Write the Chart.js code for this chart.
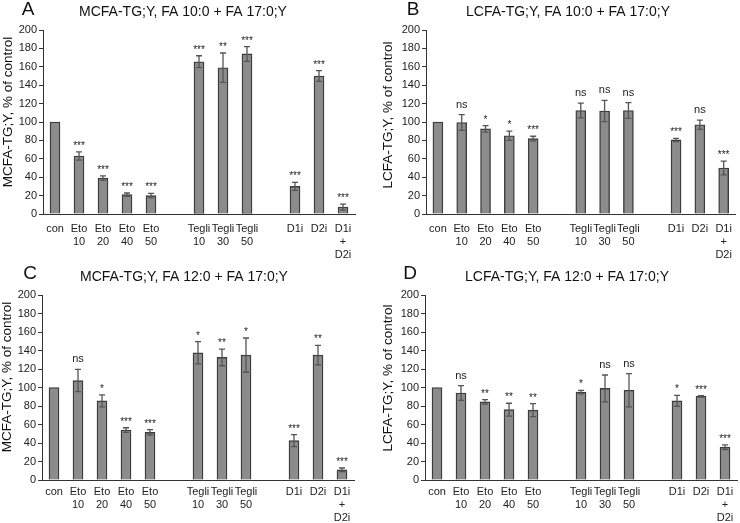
<!DOCTYPE html>
<html>
<head>
<meta charset="utf-8">
<script src="https://cdn.jsdelivr.net/npm/chart.js@4.4.1/dist/chart.umd.min.js"></script>
<style>
  body { margin: 0; background: #fff; }
  #wrap { position: relative; width: 740px; height: 523px; overflow: hidden; }
  canvas { position: absolute; }
</style>
</head>
<body>
<div id="wrap">
  <canvas id="chartA" width="370" height="262" style="left:0;top:0"></canvas>
  <canvas id="chartB" width="370" height="262" style="left:370px;top:0"></canvas>
  <canvas id="chartC" width="370" height="261" style="left:0;top:262px"></canvas>
  <canvas id="chartD" width="370" height="261" style="left:370px;top:262px"></canvas>
</div>
<script>
// categories (empty strings = gaps between groups)
const categories = ['con', ['Eto', '10'], ['Eto', '20'], ['Eto', '40'], ['Eto', '50'], '',
  ['Tegli', '10'], ['Tegli', '30'], ['Tegli', '50'], '', 'D1i', 'D2i', ['D1i', '+', 'D2i']];
const yTicks = [0, 20, 40, 60, 80, 100, 120, 140, 160, 180, 200];

// A : MCFA-TG;Y, FA 10:0 + FA 17:0;Y
const meanA = [100, 63, 39, 21, 20, null, 165.5, 159, 174, null, 30, 150, 7.5];
const errA  = [0, 4.5, 2.5, 1.8, 2.5, null, 6.5, 16, 8, null, 4.3, 5.8, 3.3];
const sigA  = ['', '***', '***', '***', '***', '', '***', '**', '***', '', '***', '***', '***'];

// B : LCFA-TG;Y, FA 10:0 + FA 17:0;Y
const meanB = [100, 99.5, 92.5, 85, 82, null, 112.5, 112, 112.5, null, 80.5, 97, 50];
const errB  = [0, 8.5, 3.5, 5, 2.5, null, 8, 11.5, 8.5, null, 1.8, 5, 7.5];
const sigB  = ['', 'ns', '*', '*', '***', '', 'ns', 'ns', 'ns', '', '***', 'ns', '***'];

// C : MCFA-TG;Y, FA 12:0 + FA 17:0;Y
const meanC = [100, 107.5, 85.5, 54, 51.5, null, 137.5, 132.5, 135, null, 42.5, 135, 11];
const errC  = [0, 12, 6.5, 2.5, 3, null, 12, 9, 18.5, null, 6.5, 10.5, 2];
const sigC  = ['', 'ns', '*', '***', '***', '', '*', '**', '*', '', '***', '**', '***'];

// D : LCFA-TG;Y, FA 12:0 + FA 17:0;Y
const meanD = [100, 94, 84.5, 76, 75.5, null, 95, 99, 97, null, 85.5, 90.5, 35.5];
const errD  = [0, 8, 2.5, 7, 7, null, 1.8, 14.5, 18, null, 6, 0.8, 2.5];
const sigD  = ['', 'ns', '**', '**', '**', '', '*', 'ns', 'ns', '', '*', '***', '***'];

const FONT = "'Liberation Sans', Arial, sans-serif";

// error bars + significance marks, drawn through the y scale
const errorBarPlugin = {
  id: 'errorBars',
  afterDatasetsDraw(chart) {
    const { ctx, scales: { y } } = chart;
    const meta = chart.getDatasetMeta(0);
    const ds = chart.data.datasets[0];
    ctx.save();
    meta.data.forEach((bar, i) => {
      const v = ds.data[i];
      if (v === null) return;
      const e = ds.err[i];
      let top = y.getPixelForValue(v);
      if (e > 0) {
        top = y.getPixelForValue(v + e);
        const bot = y.getPixelForValue(v - e);
        ctx.strokeStyle = '#555';
        ctx.lineWidth = 1.3;
        ctx.beginPath();
        ctx.moveTo(bar.x, top); ctx.lineTo(bar.x, bot);
        ctx.moveTo(bar.x - 3, top); ctx.lineTo(bar.x + 3, top);
        ctx.moveTo(bar.x - 3, bot); ctx.lineTo(bar.x + 3, bot);
        ctx.stroke();
      }
      const s = ds.sig[i];
      if (s) {
        ctx.fillStyle = '#222';
        ctx.textAlign = 'center';
        ctx.textBaseline = 'alphabetic';
        if (s === 'ns') {
          ctx.font = '11px ' + FONT;
          ctx.fillText(s, bar.x, top - 7);
        } else {
          ctx.font = '10px ' + FONT;
          ctx.fillText(s, bar.x, top - 3);
        }
      }
    });
    ctx.restore();
  }
};

// panel letter, title, y title
const textPlugin = {
  id: 'panelText',
  afterDraw(chart) {
    const p = chart.options.plugins.panelText;
    const ctx = chart.ctx;
    ctx.save();
    ctx.fillStyle = '#111';
    ctx.textBaseline = 'middle';
    ctx.textAlign = 'center';
    ctx.font = '19px ' + FONT;
    ctx.fillText(p.letter, p.letterX, p.letterY);
    ctx.font = '14px ' + FONT;
    ctx.fillText(p.title, p.titleX, p.titleY);
    ctx.translate(p.yTitleX, p.yTitleY);
    ctx.rotate(-Math.PI / 2);
    ctx.font = '13.5px ' + FONT;
    ctx.fillText(p.yTitle, 0, 0);
    ctx.restore();
  }
};

function makePanel(id, mean, err, sig, text, area) {
  const canvas = document.getElementById(id);
  const W = canvas.width, H = canvas.height;
  return new Chart(canvas, {
    type: 'bar',
    data: {
      labels: categories,
      datasets: [{
        data: mean,
        err: err,
        sig: sig,
        backgroundColor: '#8c8c8c',
        borderColor: '#3c3c3c',
        borderWidth: 1.4,
        barThickness: 10
      }]
    },
    options: {
      responsive: false,
      animation: false,
      events: [],
      layout: { padding: { left: 0, top: area.top, right: W - area.right, bottom: 0 } },
      plugins: {
        legend: { display: false },
        tooltip: { enabled: false },
        panelText: text
      },
      scales: {
        x: {
          grid: { display: false, drawTicks: false },
          border: { display: true, color: '#333', width: 1 },
          ticks: {
            autoSkip: false, maxRotation: 0, minRotation: 0, padding: area.labelPad,
            color: '#222', font: { family: FONT, size: 11, lineHeight: 1.2 }
          },
          afterFit: s => { s.height = H - area.bottom; }
        },
        y: {
          min: 0, max: 200,
          afterBuildTicks: s => { s.ticks = yTicks.map(v => ({ value: v })); },
          grid: { display: true, drawOnChartArea: false, drawTicks: true, tickLength: 4, color: '#333' },
          border: { display: true, color: '#333', width: 1 },
          ticks: { padding: 2, color: '#222', font: { family: FONT, size: 11 } },
          afterFit: s => { s.width = area.left; }
        }
      }
    },
    plugins: [errorBarPlugin, textPlugin]
  });
}

makePanel('chartA', meanA, errA, sigA,
  { letter: 'A', letterX: 28, letterY: 10, title: 'MCFA-TG;Y, FA 10:0 + FA 17:0;Y', titleX: 183, titleY: 12,
    yTitle: 'MCFA-TG;Y, % of control', yTitleX: 8, yTitleY: 112 },
  { left: 43, right: 355, top: 30, bottom: 214, labelPad: 8 });

makePanel('chartB', meanB, errB, sigB,
  { letter: 'B', letterX: 43, letterY: 10, title: 'LCFA-TG;Y, FA 10:0 + FA 17:0;Y', titleX: 198, titleY: 12,
    yTitle: 'LCFA-TG;Y, % of control', yTitleX: 18, yTitleY: 115 },
  { left: 56, right: 368, top: 30, bottom: 214, labelPad: 8 });

makePanel('chartC', meanC, errC, sigC,
  { letter: 'C', letterX: 30, letterY: 12, title: 'MCFA-TG;Y, FA 12:0 + FA 17:0;Y', titleX: 184, titleY: 15,
    yTitle: 'MCFA-TG;Y, % of control', yTitleX: 7, yTitleY: 115 },
  { left: 42, right: 354, top: 33, bottom: 218, labelPad: 5 });

makePanel('chartD', meanD, errD, sigD,
  { letter: 'D', letterX: 40, letterY: 12, title: 'LCFA-TG;Y, FA 12:0 + FA 17:0;Y', titleX: 197, titleY: 15,
    yTitle: 'LCFA-TG;Y, % of control', yTitleX: 18, yTitleY: 116 },
  { left: 55, right: 367, top: 33, bottom: 218, labelPad: 5 });
</script>
</body>
</html>
